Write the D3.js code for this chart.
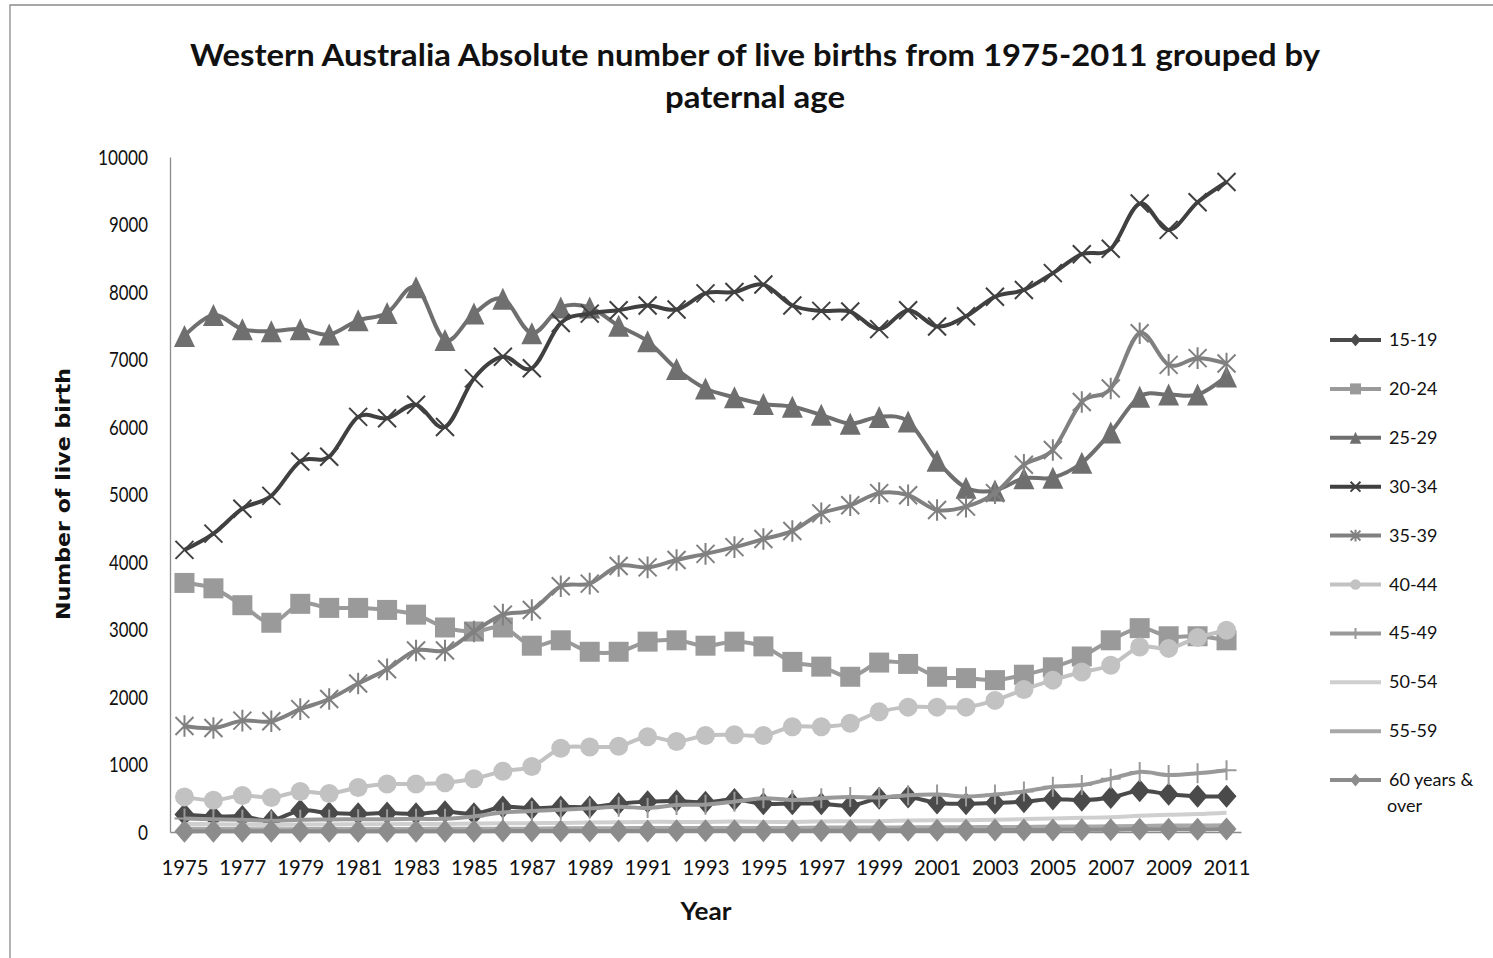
<!DOCTYPE html>
<html><head><meta charset="utf-8">
<script src="https://cdn.jsdelivr.net/npm/d3@7"></script>
<style>
html,body{margin:0;padding:0;background:#fff;}
svg{display:block;}
</style></head>
<body>
<svg id="chart" width="1493" height="958"></svg>
<script>
const years = d3.range(1975, 2012);
const yTicks = [0,1000,2000,3000,4000,5000,6000,7000,8000,9000,10000];
const xTickYears = years.filter(y => (y - 1975) % 2 === 0);

const s15_19 = [260,230,230,170,320,280,270,280,270,300,270,370,350,370,370,420,450,460,440,480,420,420,420,390,500,520,430,420,430,450,490,470,510,610,560,530,530];
const s20_24 = [3690,3610,3360,3100,3380,3320,3320,3290,3220,3030,2970,3030,2760,2840,2670,2670,2820,2840,2760,2820,2750,2520,2450,2300,2510,2490,2300,2280,2250,2330,2440,2600,2840,3020,2900,2900,2840];
const s25_29 = [7350,7660,7450,7420,7450,7370,7580,7690,8070,7290,7680,7900,7390,7770,7770,7500,7270,6860,6570,6440,6340,6300,6180,6050,6150,6080,5500,5100,5060,5240,5250,5470,5920,6450,6480,6480,6750];
const s30_34 = [4180,4420,4790,4980,5490,5560,6150,6130,6330,6000,6720,7040,6870,7540,7680,7730,7800,7740,7980,8000,8110,7800,7720,7710,7450,7730,7490,7640,7930,8030,8280,8560,8640,9310,8920,9330,9630];
const s35_39 = [1570,1540,1650,1640,1820,1970,2200,2410,2690,2690,2970,3220,3290,3640,3680,3940,3920,4030,4120,4220,4340,4460,4720,4840,5020,4990,4770,4820,5020,5440,5660,6370,6570,7390,6920,7020,6940];
const s40_44 = [520,470,540,510,600,570,660,710,710,730,790,900,970,1240,1260,1270,1410,1340,1430,1440,1430,1560,1560,1610,1780,1850,1850,1850,1950,2110,2250,2370,2470,2740,2720,2880,2990];
const s45_49 = [200,190,180,165,180,185,190,190,195,195,230,290,310,330,350,375,355,400,405,450,500,475,500,520,510,545,555,525,555,600,670,695,790,890,845,870,915];
const s50_54 = [120,115,110,105,110,110,115,115,120,120,125,130,130,135,140,145,150,150,150,155,150,150,155,160,160,170,175,175,180,190,200,210,220,240,255,265,285];
const s55_59 = [50,45,45,40,45,45,45,45,45,50,50,50,50,55,55,55,60,60,60,60,60,60,65,65,65,70,70,70,75,75,80,80,85,90,95,95,100];
const s60_plus = [10,10,10,10,10,10,10,10,10,10,10,15,15,15,15,15,15,20,20,20,20,20,20,20,25,25,25,25,30,30,30,35,35,40,40,40,45];

const seriesNames = ["15-19","20-24","25-29","30-34","35-39","40-44","45-49","50-54","55-59","60 years & over"];
const seriesValues = [s15_19,s20_24,s25_29,s30_34,s35_39,s40_44,s45_49,s50_54,s55_59,s60_plus];
const seriesColors = ["#4a4a4a","#9a9a9a","#6f6f6f","#404040","#808080","#c2c2c2","#999999","#cfcfcf","#a8a8a8","#8c8c8c"];
const seriesMarkers = ["diamond","square","triangle","x","asterisk","circle","plus","none","none","diamond"];

const svg = d3.select("#chart");
const FONT = "'Lato','Open Sans',sans-serif";

// outer chart border
svg.append("path").attr("d","M10,958V5H1493").attr("fill","none").attr("stroke","#8a8a8a").attr("stroke-width",1.3);

const x = d3.scalePoint().domain(years).range([170,1241]).padding(0.5);
const y = d3.scaleLinear().domain([0,10000]).range([832,157]);

// title
svg.append("text").attr("x",755).attr("y",66).attr("text-anchor","middle")
  .attr("font-family",FONT).attr("font-weight","bold").attr("font-size",31).attr("fill","#111")
  .attr("textLength",1130).attr("lengthAdjust","spacingAndGlyphs")
  .text("Western Australia  Absolute number of live births from 1975-2011 grouped by");
svg.append("text").attr("x",755).attr("y",108).attr("text-anchor","middle")
  .attr("font-family",FONT).attr("font-weight","bold").attr("font-size",31).attr("fill","#111")
  .attr("textLength",180).attr("lengthAdjust","spacingAndGlyphs")
  .text("paternal age");

// axes
const yAxis = svg.append("g").attr("transform","translate(170,0)")
  .call(d3.axisLeft(y).tickValues(yTicks).tickSize(0).tickPadding(22).tickFormat(d3.format("d")));
yAxis.select(".domain").attr("stroke","#8c8c8c").attr("stroke-width",1.3);
yAxis.selectAll("text").attr("font-family",FONT).attr("font-size",22).attr("fill","#111")
  .attr("textLength",d => d >= 10000 ? 50 : (d >= 1000 ? 39 : 10)).attr("lengthAdjust","spacingAndGlyphs");

const xAxis = svg.append("g").attr("transform","translate(0,832)")
  .call(d3.axisBottom(x).tickValues(xTickYears).tickSize(0).tickPadding(27));
xAxis.select(".domain").attr("stroke","#8c8c8c").attr("stroke-width",1.3);
xAxis.selectAll("text").attr("font-family",FONT).attr("font-size",22).attr("fill","#111")
  .attr("textLength",47).attr("lengthAdjust","spacingAndGlyphs");

// axis titles
svg.append("text").attr("transform","translate(70,494) rotate(-90)").attr("text-anchor","middle")
  .attr("font-family","'DejaVu Sans',sans-serif").attr("font-weight","bold").attr("font-size",19).attr("fill","#111")
  .attr("textLength",252).attr("lengthAdjust","spacingAndGlyphs")
  .text("Number of live birth");
svg.append("text").attr("x",706).attr("y",920).attr("text-anchor","middle")
  .attr("font-family",FONT).attr("font-weight","bold").attr("font-size",25).attr("fill","#111")
  .attr("textLength",51).attr("lengthAdjust","spacingAndGlyphs")
  .text("Year");

function drawMarker(g, type, cx, cy, color, s) {
  if (type === "diamond") {
    const w = 10*s, h = 11.5*s;
    g.append("path").attr("d",`M${cx},${cy-h}L${cx+w},${cy}L${cx},${cy+h}L${cx-w},${cy}Z`).attr("fill",color);
  } else if (type === "square") {
    const w = 10*s;
    g.append("rect").attr("x",cx-w).attr("y",cy-w).attr("width",2*w).attr("height",2*w).attr("fill",color);
  } else if (type === "triangle") {
    const w = 10.5*s, h = 11*s;
    g.append("path").attr("d",`M${cx},${cy-h}L${cx+w},${cy+h}L${cx-w},${cy+h}Z`).attr("fill",color);
  } else if (type === "x") {
    const w = 9*s;
    g.append("path").attr("d",`M${cx-w},${cy-w}L${cx+w},${cy+w}M${cx-w},${cy+w}L${cx+w},${cy-w}`)
      .attr("stroke",color).attr("stroke-width",2).attr("fill","none");
  } else if (type === "asterisk") {
    const w = 9*s;
    g.append("path").attr("d",`M${cx-w},${cy-w}L${cx+w},${cy+w}M${cx-w},${cy+w}L${cx+w},${cy-w}M${cx},${cy-w*1.2}L${cx},${cy+w*1.2}`)
      .attr("stroke",color).attr("stroke-width",2).attr("fill","none");
  } else if (type === "circle") {
    g.append("circle").attr("cx",cx).attr("cy",cy).attr("r",9.5*s).attr("fill",color);
  } else if (type === "plus") {
    const w = 10*s;
    g.append("path").attr("d",`M${cx},${cy-w}L${cx},${cy+w}M${cx-w},${cy}L${cx+w},${cy}`)
      .attr("stroke",color).attr("stroke-width",2).attr("fill","none");
  }
}

const line = d3.line().x((d,i) => x(years[i])).y(d => y(d)).curve(d3.curveCatmullRom.alpha(0));

seriesNames.forEach((name, si) => {
  const g = svg.append("g");
  const vals = seriesValues[si];
  g.append("path").attr("d", line(vals)).attr("fill","none")
    .attr("stroke", seriesColors[si]).attr("stroke-width", 4).attr("stroke-linejoin","round");
  if (seriesMarkers[si] !== "none") {
    vals.forEach((v, i) => drawMarker(g, seriesMarkers[si], x(years[i]), y(v), seriesColors[si], 1));
  }
});

// legend
const legendY0 = 340, legendStep = 48.9;
seriesNames.forEach((name, si) => {
  const ly = legendY0 + si*legendStep;
  const g = svg.append("g");
  g.append("line").attr("x1",1330).attr("x2",1381).attr("y1",ly).attr("y2",ly)
    .attr("stroke",seriesColors[si]).attr("stroke-width",4);
  if (seriesMarkers[si] !== "none") drawMarker(g, seriesMarkers[si], 1355.5, ly, seriesColors[si], 0.55);
  const t = g.append("text").attr("x",1389).attr("y",ly+6)
    .attr("font-family",FONT).attr("font-size",18).attr("fill","#111");
  if (name === "60 years & over") {
    t.append("tspan").attr("x",1389).text("60 years &");
    t.append("tspan").attr("x",1387).attr("dy",26).text("over");
  } else {
    t.text(name);
  }
});
</script>
</body></html>
